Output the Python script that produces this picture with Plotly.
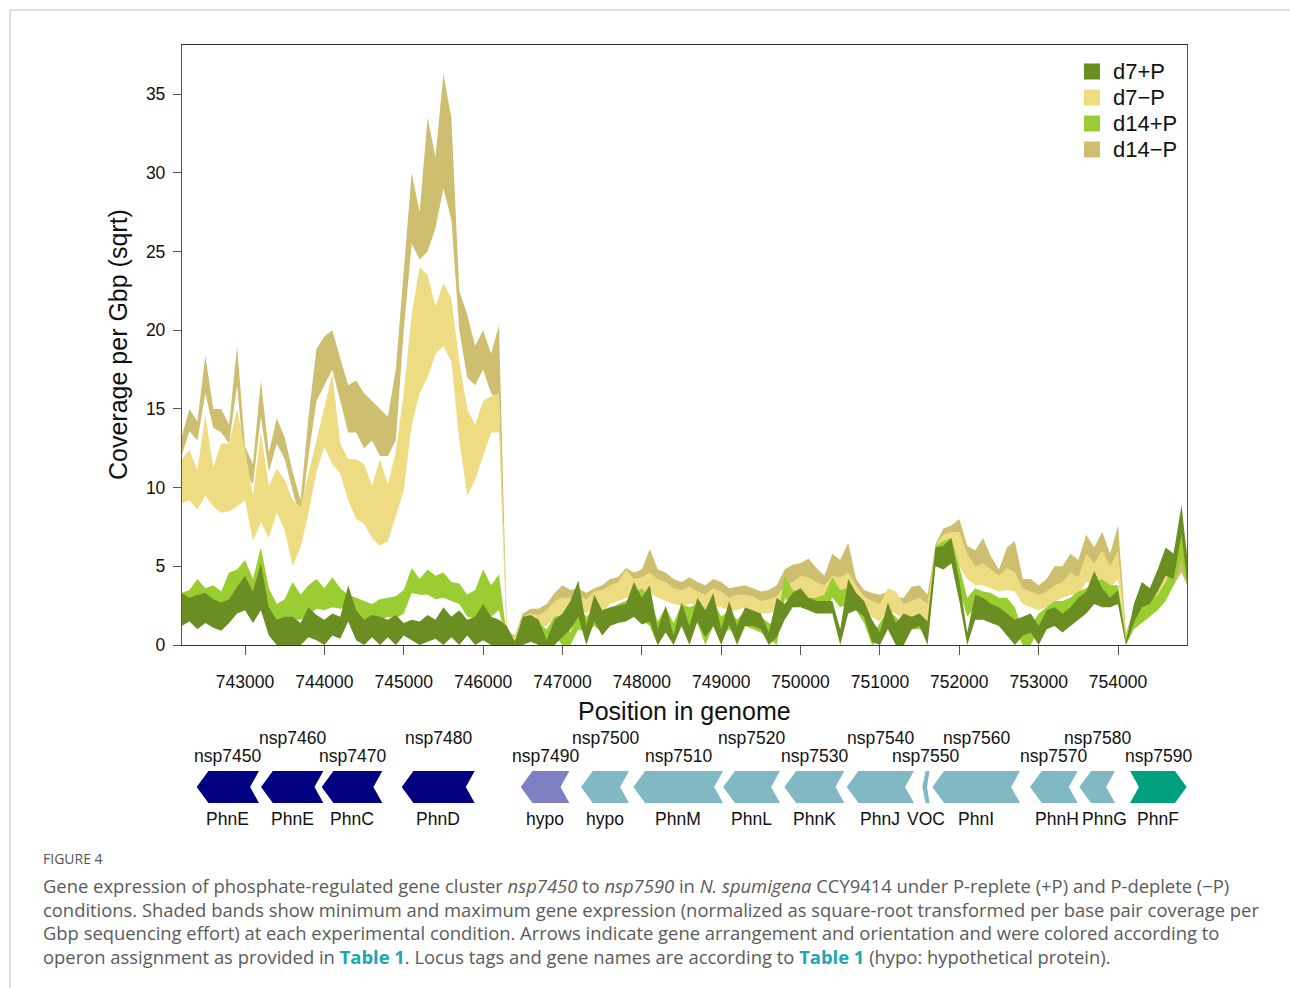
import plotly.graph_objects as go

# ---------------- coverage data (sqrt coverage per Gbp), 100 bp steps ----------------
positions = list(range(742200, 754801, 100)) + [754870]

d14m_hi = [13.2, 15.0, 14.2, 18.4, 15.0, 15.0, 14.0, 19.0,
           12.6, 11.5, 16.8, 12.2, 14.4, 13.2, 11.0, 9.2, 14.5, 18.8,
           19.6, 20.0, 18.2, 16.5, 16.8, 16.0, 15.5, 15.0, 14.5, 17.5,
           23.5, 30.0, 27.5, 33.5, 31.0, 36.3, 33.5, 22.5, 21.0, 19.0,
           20.0, 18.5, 20.3, 0.9, 0.6, 2.0, 2.3, 2.3, 2.6, 3.3,
           3.8, 3.5, 3.6, 3.3, 3.6, 3.8, 4.2, 4.3, 4.9, 4.6,
           4.8, 6.1, 4.8, 4.6, 4.2, 4.0, 4.3, 4.0, 3.8, 4.2,
           4.0, 3.6, 3.7, 3.8, 3.6, 3.4, 3.5, 3.8, 4.8, 5.1,
           5.2, 5.5, 4.9, 4.4, 5.8, 5.4, 6.5, 4.2, 3.5, 3.3,
           3.2, 3.4, 3.0, 3.0, 3.7, 3.8, 3.2, 6.4, 7.4, 7.6,
           8.0, 6.3, 6.0, 6.8, 5.6, 4.8, 6.2, 6.6, 4.2, 4.2,
           3.8, 4.2, 5.0, 5.0, 5.8, 5.4, 7.0, 6.2, 7.2, 5.8,
           7.6, 0.8, 2.2, 2.8, 3.0, 3.6, 4.4, 5.0, 5.8, 5.0]
d14m_lo = [12.0, 13.6, 13.0, 16.0, 13.8, 13.5, 12.8, 16.5,
           11.0, 10.2, 14.5, 11.0, 12.8, 11.8, 9.8, 8.0, 12.0, 15.5,
           16.5, 17.5, 15.5, 13.5, 13.5, 12.5, 13.0, 12.0, 12.0, 13.0,
           20.0, 25.5, 24.5, 25.0, 26.5, 29.0, 27.0, 20.0, 17.0, 16.5,
           17.5, 16.0, 15.5, 0.3, 0.2, 1.2, 1.4, 1.4, 1.6, 2.2,
           2.6, 2.5, 2.6, 2.4, 2.7, 2.6, 3.0, 3.2, 3.5, 3.4,
           3.6, 4.4, 3.6, 3.4, 3.0, 3.0, 3.2, 3.0, 2.8, 3.0,
           3.0, 2.8, 2.8, 2.8, 2.7, 2.4, 2.4, 2.8, 3.4, 3.6,
           3.8, 3.8, 3.6, 3.4, 4.2, 4.0, 4.5, 3.2, 2.6, 2.3,
           2.0, 2.2, 2.0, 2.0, 2.4, 2.4, 1.8, 5.4, 6.2, 6.4,
           6.4, 5.0, 4.6, 5.0, 4.4, 3.8, 4.8, 4.6, 3.2, 3.0,
           2.8, 3.0, 3.6, 3.8, 4.2, 4.0, 5.2, 4.6, 5.4, 4.4,
           5.6, 0.2, 1.4, 1.8, 2.0, 2.4, 3.2, 3.8, 4.6, 3.8]

d7m_hi = [11.8, 12.4, 11.1, 14.6, 11.3, 12.8, 12.8, 15.0,
          12.4, 9.5, 13.5, 10.1, 11.2, 10.5, 9.2, 8.8, 10.9, 13.0,
          15.0, 17.2, 12.8, 11.8, 11.8, 11.5, 10.1, 11.8, 10.2, 12.3,
          16.0, 21.0, 24.0, 23.5, 21.5, 23.0, 22.0, 18.0, 15.0, 14.0,
          15.5, 15.8, 16.0, 0.8, 0.5, 1.8, 2.0, 1.9, 2.2, 2.8,
          3.0, 3.0, 3.2, 2.9, 3.4, 3.5, 3.8, 4.0, 4.8, 4.2,
          4.3, 4.6, 4.2, 4.0, 3.6, 3.5, 3.7, 3.4, 3.2, 3.6,
          3.4, 3.0, 3.2, 3.2, 3.1, 2.8, 2.9, 3.1, 3.8, 4.0,
          4.4, 4.3, 4.0, 3.8, 4.4, 4.3, 4.6, 3.8, 3.1, 2.8,
          2.6, 3.6, 3.4, 2.6, 2.8, 3.0, 2.6, 6.3, 7.0, 7.2,
          7.2, 5.8, 5.0, 5.2, 4.8, 4.4, 4.9, 4.6, 3.6, 3.4,
          3.2, 3.4, 3.8, 4.0, 4.6, 4.3, 5.8, 5.2, 6.0, 5.0,
          6.0, 0.6, 2.0, 2.8, 3.2, 3.8, 4.6, 6.0, 7.8, 6.0]
d7m_lo = [9.0, 9.2, 8.6, 9.5, 8.8, 8.4, 8.5, 8.8,
          9.2, 6.6, 7.8, 6.8, 8.4, 7.3, 5.0, 6.2, 8.4, 11.0,
          12.6, 11.5, 10.9, 9.2, 8.0, 7.7, 6.8, 6.3, 6.6, 8.2,
          9.8, 14.0, 16.0, 17.0, 18.5, 19.0, 18.0, 13.0, 9.5, 10.5,
          12.0, 13.5, 13.5, 0.1, 0.1, 1.0, 1.3, 1.2, 1.2, 1.7,
          2.0, 2.0, 2.2, 2.0, 2.3, 2.0, 2.6, 2.8, 3.0, 3.0,
          3.2, 3.3, 3.0, 2.8, 2.6, 2.5, 2.6, 2.5, 2.2, 2.4,
          2.4, 2.2, 2.2, 2.4, 2.2, 2.0, 2.0, 2.2, 2.8, 3.0,
          3.2, 3.0, 3.0, 2.8, 3.4, 3.2, 3.5, 2.8, 2.2, 1.8,
          1.5, 2.3, 2.0, 1.6, 1.6, 1.8, 1.4, 5.2, 5.6, 5.8,
          5.0, 4.2, 3.8, 3.8, 3.6, 3.4, 3.5, 3.4, 2.6, 2.4,
          2.2, 2.4, 2.8, 3.0, 3.2, 3.2, 4.0, 3.8, 4.2, 3.6,
          4.2, 0.1, 1.2, 1.8, 2.0, 2.6, 3.4, 4.4, 6.0, 4.6]

d14p_hi = [3.3, 3.5, 4.2, 3.6, 3.8, 3.4, 4.6, 4.8,
           5.4, 4.2, 6.2, 3.6, 2.6, 2.9, 4.0, 3.2, 3.8, 4.2,
           3.6, 4.3, 3.6, 3.2, 3.0, 2.8, 2.6, 2.9, 3.0, 3.1,
           3.5, 4.9, 4.2, 4.8, 4.4, 4.6, 4.0, 3.9, 3.2, 3.5,
           4.8, 3.8, 4.5, 0.5, 0.3, 1.2, 1.5, 1.4, 1.0, 1.8,
           1.9, 0.8, 2.5, 1.8, 2.3, 2.0, 2.3, 2.6, 2.8, 3.3,
           3.6, 3.0, 1.5, 2.4, 1.4, 2.6, 2.4, 2.6, 0.8, 2.8,
           1.8, 2.2, 1.6, 2.2, 2.0, 1.8, 1.4, 1.2, 4.4, 3.5,
           3.4, 3.0, 3.0, 3.2, 4.3, 3.5, 3.6, 3.0, 2.4, 0.6,
           1.4, 2.2, 1.8, 1.2, 1.6, 1.8, 1.4, 6.3, 6.6, 6.8,
           5.0, 3.0, 3.6, 3.4, 3.3, 3.0, 3.0, 2.4, 0.8, 1.2,
           2.0, 2.4, 2.8, 2.8, 3.0, 3.4, 3.6, 4.0, 4.2, 3.8,
           3.8, 0.5, 1.8, 2.4, 2.8, 3.2, 4.0, 5.2, 7.2, 5.2]
d14p_lo = [2.3, 2.4, 2.4, 2.3, 2.6, 2.5, 2.8, 2.9,
           3.3, 2.6, 3.2, 2.0, 1.4, 1.3, 1.6, 1.6, 1.9, 2.3,
           2.2, 2.4, 2.3, 2.5, 1.8, 1.6, 1.5, 1.6, 1.8, 1.7,
           2.0, 3.3, 3.2, 3.2, 2.9, 3.0, 2.8, 2.6, 1.8, 1.7,
           2.0, 1.8, 2.2, 0.0, 0.0, 0.4, 0.6, 0.5, 0.3, 0.6,
           0.0, 0.0, 1.0, 0.8, 1.2, 0.8, 1.4, 1.6, 1.6, 1.8,
           1.6, 1.2, 0.0, 1.0, 0.2, 1.2, 1.0, 1.4, 0.0, 1.2,
           0.6, 1.0, 0.5, 1.2, 1.0, 0.8, 0.4, 0.0, 3.0, 2.6,
           2.5, 2.2, 2.0, 2.1, 3.0, 2.4, 2.6, 2.2, 1.4, 0.0,
           0.3, 1.2, 0.6, 0.2, 1.0, 1.0, 0.6, 5.2, 5.4, 5.5,
           3.5, 1.8, 2.4, 2.4, 2.3, 2.0, 1.8, 1.0, 0.0, 0.0,
           1.0, 1.2, 1.6, 1.6, 1.8, 2.2, 2.4, 2.8, 3.0, 2.6,
           2.6, 0.0, 1.0, 1.4, 1.8, 2.2, 2.8, 3.8, 5.4, 3.8]

d7p_hi = [3.3, 3.0, 3.2, 3.3, 2.9, 2.7, 2.9, 3.7,
          4.4, 3.4, 5.2, 2.4, 1.6, 1.8, 1.8, 1.4, 2.4, 1.9,
          1.6, 2.0, 1.8, 3.8, 2.2, 1.6, 1.9, 1.8, 1.6, 1.9,
          1.4, 1.6, 1.5, 1.9, 1.6, 2.4, 1.8, 2.2, 1.6, 1.8,
          2.6, 1.8, 1.6, 1.2, 0.2, 1.8, 1.9, 1.6, 0.3, 1.6,
          2.0, 2.8, 4.1, 1.2, 3.2, 2.2, 2.4, 2.5, 2.6, 4.0,
          3.0, 3.8, 1.0, 2.5, 0.6, 2.7, 1.2, 3.0, 2.2, 3.3,
          1.0, 2.8, 1.2, 2.4, 2.2, 2.0, 0.8, 3.0, 2.6, 3.3,
          3.6, 3.0, 2.8, 2.8, 2.8, 1.0, 4.2, 3.3, 2.8, 1.6,
          0.8, 2.7, 1.4, 2.0, 1.8, 2.0, 1.5, 6.2, 6.3, 6.8,
          4.1, 0.8, 3.2, 3.0, 2.6, 2.4, 2.0, 1.6, 1.8, 2.0,
          1.2, 2.2, 2.4, 2.0, 2.4, 3.0, 3.4, 4.7, 3.6, 3.0,
          3.5, 0.2, 2.6, 4.0, 3.6, 4.8, 6.2, 5.8, 8.9, 5.6]
d7p_lo = [1.2, 1.5, 1.0, 1.4, 1.1, 0.9, 1.4, 2.0,
          2.2, 1.4, 2.2, 0.6, 0.0, 0.0, 0.0, 0.0, 0.5, 0.3,
          0.0, 0.6, 0.4, 1.5, 0.3, 0.0, 0.5, 0.0, 0.5, 0.0,
          0.6, 0.3, 0.0, 0.2, 0.4, 0.0, 0.5, 0.0, 0.6, 0.0,
          0.3, 0.0, 0.0, 0.0, 0.0, 0.0, 0.2, 0.0, 0.0, 0.0,
          0.5, 1.0, 1.8, 0.0, 1.5, 0.6, 1.2, 1.4, 1.5, 1.8,
          1.3, 1.5, 0.0, 0.8, 0.0, 1.2, 0.0, 1.5, 0.5, 1.2,
          0.0, 1.3, 0.0, 1.2, 1.2, 1.0, 0.0, 0.5, 1.6, 2.4,
          2.4, 2.2, 2.0, 2.0, 2.0, 0.0, 2.0, 2.2, 1.8, 0.2,
          0.0, 1.0, 0.0, 0.0, 1.0, 1.2, 0.0, 5.0, 4.8, 5.2,
          2.8, 0.0, 1.6, 1.6, 1.4, 1.2, 0.6, 0.0, 0.6, 0.8,
          0.0, 1.0, 1.2, 0.8, 1.2, 1.6, 2.0, 2.6, 2.4, 2.4,
          2.6, 0.0, 1.4, 2.4, 2.6, 3.4, 4.4, 4.2, 7.0, 4.0]

# drawing order (bottom to top) and legend order
band_names = ["d14\u2212P", "d7\u2212P", "d14+P", "d7+P"]
band_colors = ["#CDBE70", "#EEDC82", "#9ACD32", "#6B8E23"]
band_hi = [d14m_hi, d7m_hi, d14p_hi, d7p_hi]
band_lo = [d14m_lo, d7m_lo, d14p_lo, d7p_lo]
legend_order = ["d7+P", "d7\u2212P", "d14+P", "d14\u2212P"]

# ---------------- gene cluster ----------------
gene_locus = ["nsp7450", "nsp7460", "nsp7470", "nsp7480", "nsp7490", "nsp7500",
              "nsp7510", "nsp7520", "nsp7530", "nsp7540", "nsp7550", "nsp7560",
              "nsp7570", "nsp7580", "nsp7590"]
gene_name = ["PhnE", "PhnE", "PhnC", "PhnD", "hypo", "hypo", "PhnM", "PhnL",
             "PhnK", "PhnJ", "VOC", "PhnI", "PhnH", "PhnG", "PhnF"]
gene_start = [742391, 743202, 743966, 744974, 746474, 747234, 747893, 749025,
              749796, 750581, 751534, 751660, 752891, 753512, 754151]
gene_end = [743176, 743987, 744730, 745894, 747087, 747838, 749023, 749741,
            750552, 751429, 751625, 752765, 753492, 753962, 754865]
gene_strand = [-1, -1, -1, -1, -1, -1, -1, -1, -1, -1, -1, -1, -1, -1, 1]
gene_operon = ["A", "A", "A", "A", "B", "C", "C", "C", "C", "C", "C", "C", "C", "C", "D"]
operon_colors = {"A": "#000080", "B": "#7F7FC4", "C": "#80B9C3", "D": "#00A07F"}

x_ticks = list(range(743000, 754001, 1000))
y_ticks = [0, 5, 10, 15, 20, 25, 30, 35]

# ---------------- page geometry (pixels) ----------------
W, H = 1290, 988
ML, MR, MT, MB = 182, 103, 45, 158
PW, PH = W - ML - MR, H - MT - MB
MAIN_BOTTOM = 645
TRACK_H = 100


def px(xp):
    return (xp - ML) / PW


def py(yp):
    return 1 - (yp - MT) / PH


FONT = "Liberation Sans, Arial, sans-serif"
fig = go.Figure()

for name, col, hi, lo in zip(band_names, band_colors, band_hi, band_lo):
    fig.add_trace(go.Scatter(
        x=positions + positions[::-1], y=hi + lo[::-1],
        fill="toself", fillcolor=col, mode="lines", line=dict(width=0, color=col),
        name=name, hoverinfo="skip", showlegend=False, xaxis="x", yaxis="y"))

# gene arrows on the lower track (y2 in pixels above the track bottom)
HEAD, NOTCH = 148, 112
Y_TOP, Y_BOT = 59, 27
Y_MID = (Y_TOP + Y_BOT) / 2
annotations = []
for i, (loc, nm, s, e, strand, op) in enumerate(zip(gene_locus, gene_name, gene_start,
                                                   gene_end, gene_strand, gene_operon)):
    length = e - s
    head = min(HEAD, 0.45 * length)
    notch = min(NOTCH, 0.35 * length)
    if strand < 0:
        xs = [s, s + head, e, e - notch, e, s + head, s]
    else:
        xs = [e, e - head, s, s + notch, s, e - head, e]
    ys = [Y_MID, Y_TOP, Y_TOP, Y_MID, Y_BOT, Y_BOT, Y_MID]
    col = operon_colors[op]
    fig.add_trace(go.Scatter(x=xs, y=ys, fill="toself", fillcolor=col, mode="lines",
                             line=dict(width=0, color=col), hoverinfo="skip",
                             showlegend=False, xaxis="x2", yaxis="y2"))
    mid = (s + e) / 2
    row_y = 92 if i % 2 else 74
    annotations.append(dict(x=mid, y=row_y, xref="x2", yref="y2", text=loc,
                            xanchor="center", yanchor="middle", showarrow=False,
                            font=dict(size=17.5, color="#111", family=FONT)))
    nudge = {"PhnH": 40, "PhnG": 90}.get(nm, 0)
    annotations.append(dict(x=mid + nudge, y=11, xref="x2", yref="y2", text=nm,
                            xanchor="center", yanchor="middle", showarrow=False,
                            font=dict(size=17.5, color="#111", family=FONT)))

# axis titles
annotations.append(dict(x=px(118), y=py(345), xref="paper", yref="paper",
                        xanchor="center", yanchor="middle",
                        text="Coverage per Gbp (sqrt)", textangle=-90, showarrow=False,
                        font=dict(size=25, color="#111", family=FONT)))
annotations.append(dict(x=px(684), y=py(711), xref="paper", yref="paper",
                        xanchor="center", yanchor="middle",
                        text="Position in genome", showarrow=False,
                        font=dict(size=25, color="#111", family=FONT)))

# legend
shapes = []
leg_rows = [71.5, 97.5, 123.5, 149.5]
for name, yrow in zip(legend_order, leg_rows):
    col = band_colors[band_names.index(name)]
    shapes.append(dict(type="rect", xref="paper", yref="paper",
                       x0=px(1084), x1=px(1100), y0=py(yrow + 8), y1=py(yrow - 8),
                       fillcolor=col, line=dict(width=0)))
    annotations.append(dict(x=px(1111), y=py(yrow), xref="paper", yref="paper",
                            text=name, xanchor="left", yanchor="middle", showarrow=False,
                            font=dict(size=22, color="#111", family=FONT)))

# page frame
shapes.append(dict(type="path", xref="paper", yref="paper",
                   path=f"M {px(10)},{py(H + 5)} L {px(10)},{py(10)} L {px(W + 5)},{py(10)}",
                   line=dict(color="#bdbdbd", width=1)))

# caption
CAP_FONT = "Open Sans, Lato, sans-serif"
TEAL = "#1AA6B7"
annotations.append(dict(x=px(41), y=py(858), xref="paper", yref="paper",
                        xanchor="left", yanchor="middle",
                        text="FIGURE 4", showarrow=False,
                        font=dict(size=14, color="#555", family=CAP_FONT)))
caption_lines = [
    "Gene expression of phosphate-regulated gene cluster <i>nsp7450</i> to <i>nsp7590</i> in "
    "<i>N. spumigena</i> CCY9414 under P-replete (+P) and P-deplete (\u2212P)",
    "conditions. Shaded bands show minimum and maximum gene expression (normalized as "
    "square-root transformed per base pair coverage per",
    "Gbp sequencing effort) at each experimental condition. Arrows indicate gene arrangement "
    "and orientation and were colored according to",
    f"operon assignment as provided in <span style='color:{TEAL}'><b>Table 1</b></span>. "
    f"Locus tags and gene names are according to <span style='color:{TEAL}'><b>Table 1</b></span> "
    "(hypo: hypothetical protein).",
]
for line, yl in zip(caption_lines, [885, 909, 932, 956]):
    annotations.append(dict(x=px(41), y=py(yl), xref="paper", yref="paper",
                            xanchor="left", yanchor="middle",
                            text=line, showarrow=False,
                            font=dict(size=18.4, color="#5a5a5a", family=CAP_FONT)))

x_range = [742206, 754869]
fig.update_layout(
    width=W, height=H, margin=dict(l=ML, r=MR, t=MT, b=MB, autoexpand=False),
    paper_bgcolor="white", plot_bgcolor="white", showlegend=False,
    font=dict(family=FONT, color="#111"),
    xaxis=dict(range=x_range, domain=[0, 1], anchor="y", tickvals=x_ticks,
               ticktext=[str(v) for v in x_ticks], ticks="outside", ticklen=9,
               tickcolor="#555", tickwidth=1.2, showline=True, linecolor="#333",
               linewidth=1.3, mirror=True, showgrid=False, zeroline=False,
               tickfont=dict(size=17.5, color="#111"), ticklabelstandoff=12),
    yaxis=dict(range=[0, 38.12], domain=[py(MAIN_BOTTOM), 1], anchor="x",
               tickvals=y_ticks, ticks="outside", ticklen=8, tickcolor="#555",
               tickwidth=1.2, showline=True, linecolor="#555", linewidth=1.3,
               mirror=True, showgrid=False, zeroline=False,
               tickfont=dict(size=17.5, color="#111"), ticklabelstandoff=4),
    xaxis2=dict(range=x_range, domain=[0, 1], anchor="y2", visible=False),
    yaxis2=dict(range=[0, TRACK_H], domain=[0, TRACK_H / PH], anchor="x2", visible=False),
    annotations=annotations, shapes=shapes,
)

fig.write_html("out.html")
